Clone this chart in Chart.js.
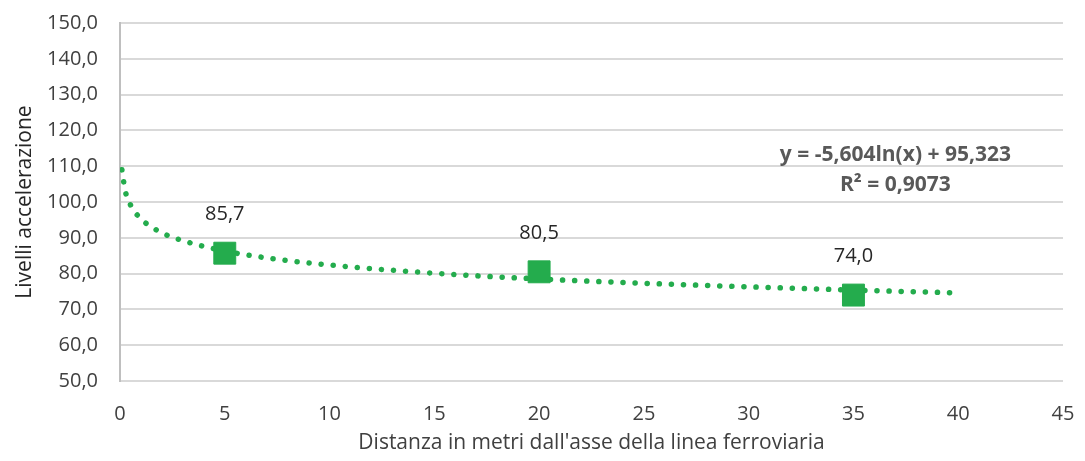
<!DOCTYPE html>
<html>
<head>
<meta charset="utf-8">
<script src="https://cdn.jsdelivr.net/npm/chart.js@4/dist/chart.umd.min.js"></script>
<style>
  html, body { margin: 0; padding: 0; background: #fff; }
  #wrap { width: 1085px; height: 461px; }
</style>
</head>
<body>
<div id="wrap"><canvas id="chart"></canvas></div>
<script>
// measured points
const distances = [5, 20, 35];
const levels = [85.7, 80.5, 74.0];

// trendline
const trendX = [0.09, 0.25, 0.5, 1, 2, 3, 5, 7.5, 10, 15, 20, 25, 30, 35, 40];
const trendY = [109.0, 103.1, 99.2, 95.3, 91.4, 89.2, 86.3, 84.0, 82.4, 80.1, 78.5, 77.3, 76.3, 75.4, 74.6];

const equationLines = ['y = -5,604ln(x) + 95,323', 'R² = 0,9073'];

const GREEN = '#24AC4D';
const FONT = "'Open Sans', 'Noto Sans', sans-serif";

const fmt = v => v.toFixed(1).replace('.', ',');

// value labels above squares + trend equation
const labelPlugin = {
  id: 'labels',
  afterDatasetsDraw(chart) {
    const { ctx, scales: { x, y } } = chart;
    ctx.save();
    ctx.font = `20px ${FONT}`;
    ctx.fillStyle = '#262626';
    ctx.textAlign = 'center';
    ctx.textBaseline = 'middle';
    const meta = chart.getDatasetMeta(1);
    meta.data.forEach((pt, i) => {
      ctx.fillText(fmt(levels[i]), pt.x, pt.y - 39);
    });
    ctx.font = `bold 21px ${FONT}`;
    ctx.fillStyle = '#595959';
    const ex = x.getPixelForValue(37);
    const ey = y.getPixelForValue(113.1);
    equationLines.forEach((t, i) => ctx.fillText(t, ex, ey + i * 30));
    ctx.restore();
  }
};

new Chart(document.getElementById('chart'), {
  type: 'scatter',
  data: {
    datasets: [
      {
        label: 'Tendenza',
        data: trendX.map((v, i) => ({ x: v, y: trendY[i] })),
        showLine: true,
        borderColor: GREEN,
        borderWidth: 5.5,
        borderDash: [0.1, 12],
        borderCapStyle: 'round',
        cubicInterpolationMode: 'monotone',
        pointRadius: 0,
        order: 2
      },
      {
        label: 'Livelli',
        data: distances.map((v, i) => ({ x: v, y: levels[i] })),
        pointStyle: 'rect',
        pointRadius: 15.5,
        backgroundColor: GREEN,
        borderColor: GREEN,
        borderWidth: 1,
        order: 1
      }
    ]
  },
  options: {
    responsive: true,
    maintainAspectRatio: false,
    animation: false,
    layout: { padding: { top: 23, right: 22, left: 8, bottom: 0 } },
    plugins: { legend: { display: false }, tooltip: { enabled: false } },
    scales: {
      x: {
        type: 'linear',
        min: 0, max: 45,
        afterFit: s => { s.height = 80; s.paddingLeft = 0; s.paddingRight = 0; },
        ticks: { stepSize: 5, color: '#404040', font: { family: FONT, size: 20 }, padding: 21 },
        grid: { display: false, drawTicks: false },
        border: { display: false },
        title: {
          display: true,
          text: "Distanza in metri dall'asse della linea ferroviaria",
          color: '#404040',
          font: { family: FONT, size: 21, lineHeight: 1.0 },
          padding: { top: 0, bottom: 7 }
        }
      },
      y: {
        min: 50, max: 150,
        afterFit: s => { s.width = 112; s.paddingTop = 0; s.paddingBottom = 0; },
        ticks: {
          stepSize: 10, color: '#404040', font: { family: FONT, size: 20 }, padding: 22,
          callback: v => fmt(v)
        },
        grid: { color: '#D9D9D9', lineWidth: 2, drawTicks: false },
        border: { color: '#BFBFBF', width: 2 },
        title: {
          display: true,
          text: 'Livelli accelerazione',
          color: '#262626',
          font: { family: FONT, size: 21 },
          padding: { bottom: 8 }
        }
      }
    }
  },
  plugins: [labelPlugin]
});
</script>
</body>
</html>
